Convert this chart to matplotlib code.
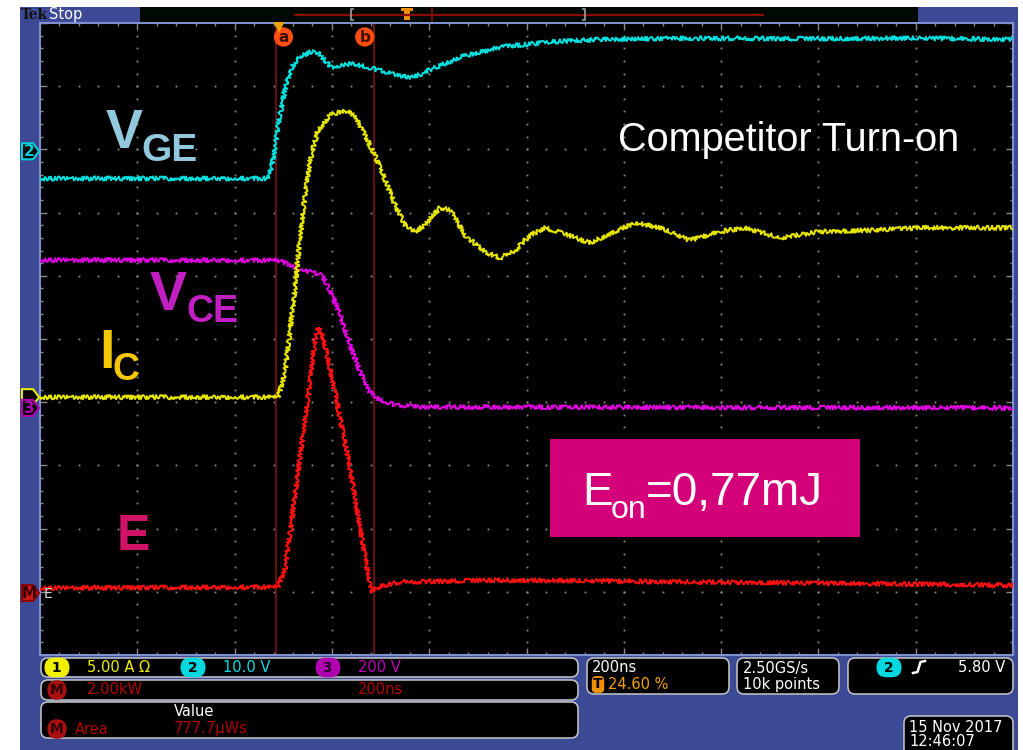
import numpy as np
import matplotlib
matplotlib.use("Agg")
import matplotlib.pyplot as plt
from matplotlib.patches import Rectangle, FancyBboxPatch, Polygon

W, H = 1023, 750

# ---------------- acquisition settings ----------------
time_per_div_ns = 200
trigger_pos = 0.246           # fraction of the record before the trigger
n_hdiv, n_vdiv = 10, 10

# channel vertical scale (per division) and ground level (divisions from centre)
vge_scale, vge_pos = 10.0, 2.97     # ch2, V/div
ic_scale, ic_pos = 5.0, -0.92       # ch1, A/div
vce_scale, vce_pos = 200.0, -1.09   # ch3, V/div
p_scale, p_pos = 2.0, -4.02         # math M = ch1*ch3, kW/div

# ---------------- waveforms (time in ns) ----------------
vge_t = [-492, -23, -15, -7, 1, 10, 18, 28, 42, 63, 77, 94, 108, 125, 151, 180,
         207, 242, 275, 316, 371, 454, 556, 659, 865, 1100, 1300, 1508]
vge_v = [-4.3, -4.3, -2.2, 1.7, 5.7, 9.2, 11.6, 13.6, 14.9, 15.7, 15.7, 14.4, 13.1,
         13.6, 13.9, 13.3, 12.8, 12.0, 11.7, 13.1, 14.9, 16.5, 17.3, 17.7, 17.9,
         17.8, 17.9, 17.7]

ic_t = [-492, -3, 1, 12, 22, 32, 42, 53, 63, 79, 104, 135, 155, 176, 197, 217, 238,
        258, 279, 299, 330, 351, 382, 423, 454, 484, 515, 546, 587, 638, 690, 731,
        782, 844, 906, 957, 1029, 1111, 1214, 1317, 1508]
ic_a = [0.0, 0.0, 0.5, 2.1, 5.3, 8.5, 12.4, 16.0, 18.7, 21.1, 22.3, 22.7, 22.3, 20.7,
        19.1, 17.2, 15.2, 13.6, 13.1, 13.6, 15.0, 14.8, 12.8, 11.5, 11.0, 11.6, 12.8,
        13.4, 12.9, 12.2, 13.1, 13.8, 13.4, 12.4, 13.1, 13.4, 12.6, 13.1, 13.2, 13.4,
        13.4]

vce_t = [-492, -3, 22, 42, 73, 88, 104, 125, 145, 166, 186, 207, 238, 289, 1508]
vce_v = [468, 467, 453, 437, 427, 418, 373, 294, 199, 114, 51, 25, 9, 3, 0]

p_t = [-492, -3, 12, 26, 42, 59, 71, 79, 88, 104, 125, 145, 166, 182, 192, 207, 248,
       454, 659, 1070, 1508]
p_kw = [0.16, 0.19, 0.79, 2.37, 4.27, 6.17, 7.75, 8.39, 8.23, 7.12, 5.54, 3.96, 2.06,
        0.63, 0.03, 0.22, 0.35, 0.41, 0.38, 0.32, 0.25]

cursor_a_ns, cursor_b_ns = -6, 194

# ---------------- colours ----------------
frame_blue = "#3c4a96"
c_vge, c_ic, c_vce, c_p = "#00dede", "#e4e400", "#e000e0", "#ff1010"

fig = plt.figure(figsize=(W / 100, H / 100), dpi=100, facecolor="white")

# background chrome in pixel coordinates
bg = fig.add_axes([0, 0, 1, 1], zorder=0)
bg.set_xlim(0, W); bg.set_ylim(H, 0); bg.axis("off")
bg.add_patch(Rectangle((20, 7), 998, 750, color=frame_blue, lw=0))

# ---------------- graticule ----------------
gx0, gx1, gy0, gy1 = 40, 1013, 23, 655
ax = fig.add_axes([gx0 / W, 1 - gy1 / H, (gx1 - gx0) / W, (gy1 - gy0) / H], zorder=1)
ax.set_facecolor("black")
t0 = -trigger_pos * n_hdiv * time_per_div_ns
t1 = t0 + n_hdiv * time_per_div_ns
ax.set_xlim(t0, t1)
ax.set_ylim(-n_vdiv / 2, n_vdiv / 2)
for s in ax.spines.values():
    s.set_color("#7f8fd0"); s.set_linewidth(1.5)
ax.set_xticks(np.arange(t0, t1 + 1, time_per_div_ns))
ax.set_xticks(np.arange(t0, t1 + 1, time_per_div_ns / 5), minor=True)
ax.set_yticks(np.arange(-5, 6, 1))
ax.set_yticks(np.arange(-5, 5.01, 0.2), minor=True)
ax.tick_params(which="both", direction="in", top=True, right=True, color="#8a8a8a",
               labelbottom=False, labelleft=False)
ax.tick_params(which="major", length=5, width=1)
ax.tick_params(which="minor", length=2.5, width=1)

dot_kw = dict(ls="none", marker="s", ms=1.3, mew=0, color="#8c8c8c", zorder=1)
minor_y = np.arange(-5, 5.01, 0.2)[1:-1]
minor_x = np.arange(t0, t1 + 1, time_per_div_ns / 5)[1:-1]
for k in range(1, n_hdiv):
    xv = t0 + k * time_per_div_ns
    ax.plot(np.full_like(minor_y, xv), minor_y, **dot_kw)
for yv in range(-4, 5):
    ax.plot(minor_x, np.full_like(minor_x, yv), **dot_kw)


def trace(t, v, scale, pos, color, z):
    ln, = ax.plot(t, np.asarray(v) / scale + pos, color=color, lw=1.4, zorder=z)
    ln.set_sketch_params(scale=2.1, length=1.1, randomness=5)
    return ln


trace(vce_t, vce_v, vce_scale, vce_pos, c_vce, 3)
trace(ic_t, ic_a, ic_scale, ic_pos, c_ic, 4)
trace(vge_t, vge_v, vge_scale, vge_pos, c_vge, 5)
trace(p_t, p_kw, p_scale, p_pos, c_p, 6)

# cursors
for ct, lab, off in [(cursor_a_ns, "a", 7), (cursor_b_ns, "b", -9)]:
    ax.axvline(ct, color="#8a1414", lw=1.1, zorder=2)
    ax.annotate(lab, xy=(ct, 1), xycoords=("data", "axes fraction"),
                xytext=(off, -14), textcoords="offset pixels", ha="center", va="center",
                fontsize=11, fontweight="bold", color="#401000",
                bbox=dict(boxstyle="circle,pad=0.14", fc="#ff4e12", ec="none"), zorder=8)
ax.plot([0], [4.93], marker="v", ms=8, color="#f0a000", mew=0, clip_on=False, zorder=9)

# ---------------- overlay (labels, markers, readouts) ----------------
ov = fig.add_axes([0, 0, 1, 1], zorder=3)
ov.set_xlim(0, W); ov.set_ylim(H, 0); ov.axis("off"); ov.patch.set_alpha(0)

lab_font = "Liberation Sans"
ov.text(106, 148, "V", fontsize=40, fontweight="bold", color="#92c8dc", family=lab_font)
ov.text(141, 161, "GE", fontsize=28, fontweight="bold", color="#92c8dc", family=lab_font)
ov.text(150, 310, "V", fontsize=40, fontweight="bold", color="#c21fc2", family=lab_font)
ov.text(186, 322, "CE", fontsize=27, fontweight="bold", color="#c21fc2", family=lab_font)
ov.text(99, 368, "I", fontsize=40, fontweight="bold", color="#f5c800", family=lab_font)
ov.text(112, 380, "C", fontsize=27, fontweight="bold", color="#f5c800", family=lab_font)
ov.text(117, 550, "E", fontsize=36, fontweight="bold", color="#cf1467", family=lab_font)
ov.text(618, 151, "Competitor Turn-on", fontsize=28.5, color="white", family=lab_font)

ov.add_patch(Rectangle((550, 439), 310, 98, color="#d4007a", lw=0))
ov.text(582, 505, "E", fontsize=33, color="white", family=lab_font)
ov.text(611, 518, "on", fontsize=23, color="white", family=lab_font)
ov.text(646, 505, "=0,77mJ", fontsize=33, color="white", family=lab_font)


def ypix(div):
    return gy0 + (n_vdiv / 2 - div) * (gy1 - gy0) / n_vdiv


def level_marker(div, edge, fill, txt=None, tcol=None):
    y = ypix(div)
    ov.add_patch(Polygon([(22, y - 8), (33, y - 8), (39, y), (33, y + 8), (22, y + 8)],
                         closed=True, fc=fill, ec=edge, lw=1.5, zorder=5))
    if txt:
        ov.text(29, y + 0.5, txt, ha="center", va="center", fontsize=11,
                fontweight="bold", color=tcol, zorder=6)


level_marker(ic_pos, "#e8e800", "black")          # mostly hidden behind ch3
level_marker(vge_pos, "#00d0d8", "black", "2", "#00d0d8")
level_marker(vce_pos, "#b000b0", "black", "3", "#b000b0")
level_marker(p_pos, "#8a0000", "#c81818", "M", "#3a0000")
ov.text(44, ypix(p_pos) + 1, "E", fontsize=10, color="#d8d8d8", va="center")

# top status strip
ov.text(21, 15, "Tek", fontsize=10, fontweight="bold", family="DejaVu Serif",
        color="#111111", va="center")
ov.text(49, 15, "Stop", fontsize=10.5, color="white", va="center")
ov.add_patch(Rectangle((140, 7), 778, 15, color="#000a02", lw=0))
ov.plot([295, 763], [14.5, 14.5], color="#8c0a0a", lw=1.6)
ov.plot([432, 432], [8, 21], color="#8c0a0a", lw=1.2)
for bx, d in [(351, 1), (585, -1)]:
    ov.plot([bx + 2 * d, bx, bx, bx + 2 * d], [9, 9, 20, 20], color="#a0a0a0", lw=1.2)
ov.add_patch(Rectangle((404, 8), 6, 12, color="#f09000", lw=0))
ov.add_patch(Rectangle((401, 8), 12, 3, color="#f09000", lw=0))


# readout boxes
def box(x0, y0, x1, y1):
    ov.add_patch(FancyBboxPatch((x0, y0), x1 - x0, y1 - y0,
                                boxstyle="round,pad=0,rounding_size=7",
                                fc="black", ec="#c8c8c8", lw=1.1, zorder=2))


for b in [(41, 658, 578, 677), (41, 680, 578, 700), (41, 702, 578, 738),
          (587, 658, 729, 694), (737, 658, 839, 694), (848, 658, 1013, 694),
          (904, 716, 1013, 760)]:
    box(*b)


def badge(x, y, txt, fill, tcol, style="round,pad=0.2,rounding_size=0.7"):
    ov.text(x, y, txt, ha="center", va="center", fontsize=10, fontweight="bold",
            color=tcol, zorder=4, bbox=dict(boxstyle=style, fc=fill, ec="none"))


rf = dict(fontsize=10.5, va="center", zorder=4)
badge(57, 667.5, " 1 ", "#f0f000", "black")
ov.text(87, 668, "5.00 A Ω", color="#eeee00", **rf)
badge(193, 667.5, " 2 ", "#00d8e0", "black")
ov.text(223, 668, "10.0 V", color="#00dce4", **rf)
badge(328, 667.5, " 3 ", "#b000b0", "#2a002a")
ov.text(358, 668, "200 V", color="#c000c0", **rf)

badge(57, 690, "M", "#a81010", "#300000")
ov.text(87, 690, "2.00kW", color="#b00000", **rf)
ov.text(358, 690, "200ns", color="#b00000", **rf)

ov.text(174, 711, "Value", color="white", **rf)
badge(57, 729, "M", "#a81010", "#300000")
ov.text(75, 729, "Area", color="#b00000", **rf)
ov.text(174, 729, "777.7µWs", color="#b00000", **rf)

ov.text(592, 668, "200ns", color="white", **rf)
badge(598, 684.5, "T", "#f09000", "black", style="round,pad=0.1,rounding_size=0.3")
ov.text(608, 684.5, "24.60 %", color="#f0a000", **rf)

ov.text(743, 668, "2.50GS/s", color="white", **rf)
ov.text(743, 684.5, "10k points", color="white", **rf)

badge(889, 667.5, " 2 ", "#00d8e0", "black")
ov.plot([913, 917.5, 920.5, 925], [673, 672, 662, 661], color="white", lw=1.8, zorder=4)
ov.text(1005, 668, "5.80 V", color="white", ha="right", fontsize=10.5, va="center",
        zorder=4)

ov.text(909, 727, "15 Nov 2017", color="white", **rf)
ov.text(909, 742, "12:46:07", color="white", **rf)

fig.savefig("out.png", dpi=100, facecolor="white")
